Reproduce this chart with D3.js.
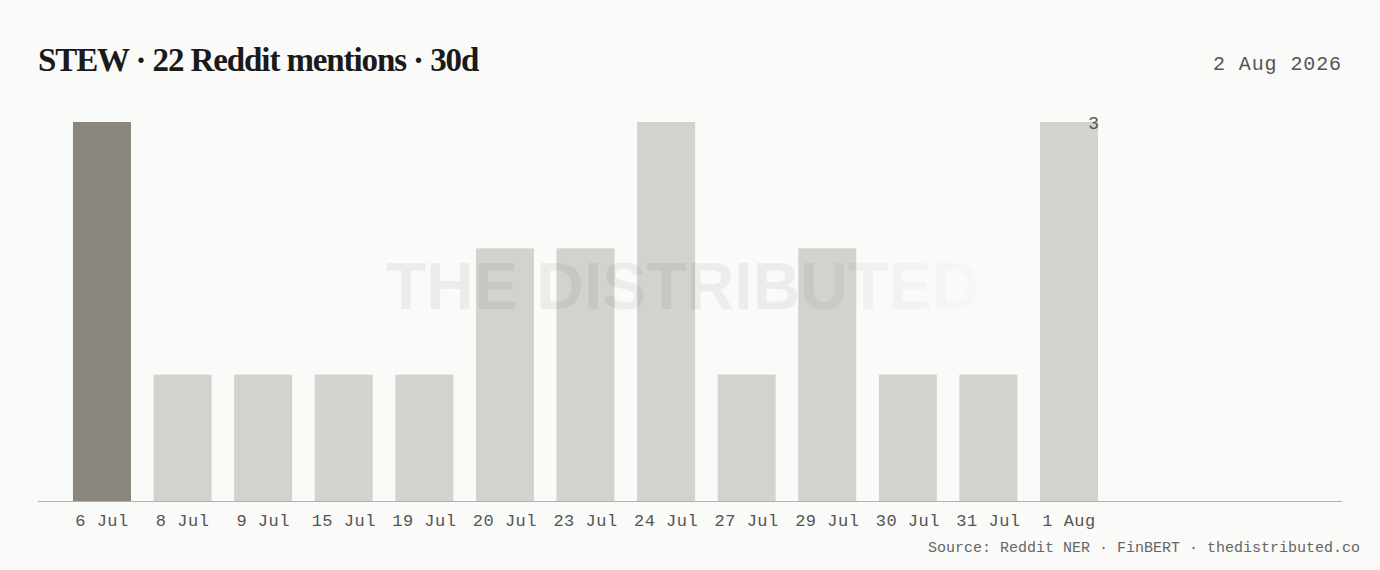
<!DOCTYPE html>
<html><head><meta charset="utf-8">
<script src="https://cdn.jsdelivr.net/npm/d3@7"></script>
<style>
html,body{margin:0;padding:0;background:#fafaf8;}
svg{display:block;}
</style></head>
<body><svg id="c" width="1380" height="570"></svg>
<script>
const categories = ["6 Jul","8 Jul","9 Jul","15 Jul","19 Jul","20 Jul","23 Jul","24 Jul","27 Jul","29 Jul","30 Jul","31 Jul","1 Aug"];
const mentions = [3,1,1,1,1,2,2,3,1,2,1,1,3];
const highlight = ["6 Jul"];
const titleText = "STEW · 22 Reddit mentions · 30d";
const dateText = "2 Aug 2026";
const sourceText = "Source: Reddit NER · FinBERT · thedistributed.co";
const watermarkText = "THE DISTRIBUTED";

const svg = d3.select("#c");
const W = 1380, H = 570;
const m = {left:38, right:1342, top:122, bottom:501};

svg.append("rect").attr("width",W).attr("height",H).attr("fill","#fafaf8");

const x = d3.scaleBand().domain(categories).range([m.left, 1133]).paddingInner(0.28).paddingOuter(0.434);
const y = d3.scaleLinear().domain([0, d3.max(mentions)]).range([m.bottom, m.top]);

// bars
svg.append("g").selectAll("rect").data(categories).join("rect")
  .attr("x", d => x(d)).attr("width", x.bandwidth())
  .attr("y", (d,i) => y(mentions[i])).attr("height", (d,i) => y(0) - y(mentions[i]))
  .attr("fill", d => highlight.includes(d) ? "#8a857d" : "#d3d2ce");

// watermark
const defs = svg.append("defs");
const g = defs.append("linearGradient").attr("id","wm").attr("x1","0").attr("x2","1").attr("y1","0").attr("y2","0");
g.append("stop").attr("offset","0").attr("stop-color","#000").attr("stop-opacity",0.055);
g.append("stop").attr("offset","0.68").attr("stop-color","#000").attr("stop-opacity",0.055);
g.append("stop").attr("offset","1").attr("stop-color","#000").attr("stop-opacity",0.012);
const f = defs.append("filter").attr("id","bl").attr("x","-5%").attr("y","-20%").attr("width","110%").attr("height","140%");
f.append("feGaussianBlur").attr("stdDeviation",0.7);
svg.append("text").attr("x", 683).attr("y", 309).attr("text-anchor","middle")
  .attr("font-family","'Liberation Sans', Arial, sans-serif").attr("font-weight","bold")
  .attr("font-size",66).attr("fill","url(#wm)").attr("filter","url(#bl)").text(watermarkText);

// axis
const xAxis = d3.axisBottom(x).tickSize(0).tickPadding(13);
const ax = svg.append("g").attr("transform",`translate(0,${m.bottom})`).call(xAxis);
ax.select(".domain").remove();
ax.selectAll("text").attr("font-family","'Liberation Mono', monospace").attr("font-size",17)
  .attr("fill","#555").attr("letter-spacing",0.5);
svg.append("line").attr("x1",m.left).attr("x2",m.right).attr("y1",m.bottom+0.5).attr("y2",m.bottom+0.5)
  .attr("stroke","#b2b1ad").attr("stroke-width",1.2);

// peak label on last bar
const last = categories[categories.length-1];
svg.append("text").attr("x", x(last)+x.bandwidth()+1).attr("y", y(mentions[mentions.length-1])+7)
  .attr("text-anchor","end").attr("font-family","'Liberation Mono', monospace").attr("font-size",18)
  .attr("fill","#555").text(mentions[mentions.length-1]);

// title
svg.append("text").attr("x",38).attr("y",71).attr("font-family","'Liberation Serif', 'DejaVu Serif', serif")
  .attr("font-weight","bold").attr("font-size",33).attr("letter-spacing",-1.1).attr("fill","#1a1a1a").text(titleText);
svg.append("text").attr("x",1342).attr("y",70).attr("text-anchor","end").attr("font-family","'Liberation Mono', monospace")
  .attr("font-size",20).attr("letter-spacing",0.9).attr("fill","#555").text(dateText);
svg.append("text").attr("x",1360).attr("y",552).attr("text-anchor","end").attr("font-family","'Liberation Mono', monospace")
  .attr("font-size",15).attr("fill","#666").text(sourceText);
</script></body></html>
